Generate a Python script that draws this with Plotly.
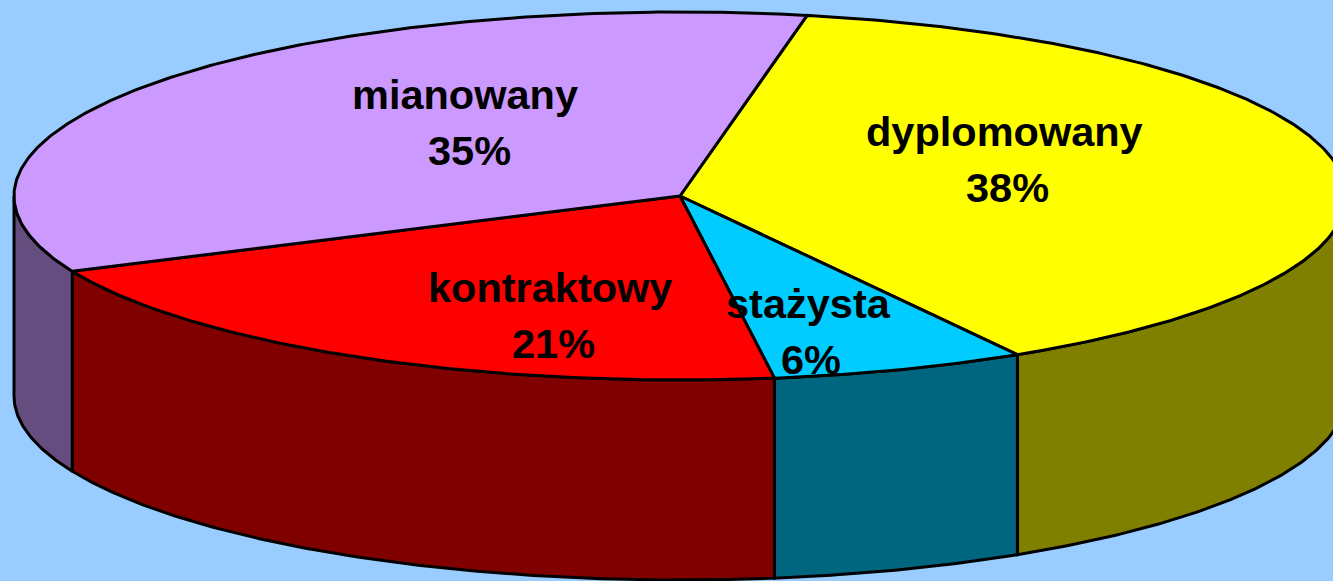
import numpy as np
import plotly.graph_objects as go

categories = ["dyplomowany", "stażysta", "kontraktowy", "mianowany"]
shares = [38.49, 6.19, 20.56, 34.76]
percent_labels = ["38%", "6%", "21%", "35%"]
top_colors = ["#FFFF00", "#00CCFF", "#FF0000", "#CC99FF"]
side_colors = ["#808000", "#006680", "#800000", "#664D80"]

W, H = 1333, 581
CX, CY, RX, RY, DEPTH = 680, 196, 666, 184, 200
START = 79.0
LABEL_POS = [(1004, 131, 1007, 187), (808, 303, 811, 359), (550, 287, 553, 343), (465, 94, 469, 150)]
OUT = "#000000"
LW = 3


def arc(a0, a1, dy=0):
    n = max(2, int(abs(a1 - a0) * 2) + 2)
    t = np.radians(np.linspace(a0, a1, n))
    return CX + RX * np.cos(t), CY - RY * np.sin(t) + dy


fig = go.Figure()
edges = START - np.cumsum([0] + shares) / sum(shares) * 360

# side walls (only the front half, -180..0 degrees, is visible)
for i in range(len(shares)):
    a0, a1 = edges[i], edges[i + 1]
    lo = max(a1, -180)
    hi = min(a0, 0)
    if hi <= lo:
        continue
    x1, y1 = arc(hi, lo)
    x2, y2 = arc(lo, hi, DEPTH)
    fig.add_trace(go.Scatter(
        x=np.r_[x1, x2, x1[0]], y=np.r_[y1, y2, y1[0]], mode="lines", fill="toself",
        fillcolor=side_colors[i], line=dict(color=OUT, width=LW), hoverinfo="skip", showlegend=False))

# top face slices
for i in range(len(shares)):
    x1, y1 = arc(edges[i], edges[i + 1])
    fig.add_trace(go.Scatter(
        x=np.r_[CX, x1, CX], y=np.r_[CY, y1, CY], mode="lines", fill="toself",
        fillcolor=top_colors[i], line=dict(color=OUT, width=LW), name=categories[i],
        hoverinfo="name", showlegend=False))

font = dict(family="Liberation Sans, Arial, sans-serif", size=41.5, color="#000000")
for cat, pct, (x1, y1, x2, y2) in zip(categories, percent_labels, LABEL_POS):
    fig.add_annotation(x=x1, y=y1, text="<b>%s</b>" % cat, showarrow=False, font=font, xanchor="center", yanchor="middle")
    fig.add_annotation(x=x2, y=y2, text="<b>%s</b>" % pct, showarrow=False, font=font, xanchor="center", yanchor="middle")

fig.update_layout(
    width=W, height=H, margin=dict(l=0, r=0, t=0, b=0),
    paper_bgcolor="#99CCFF", plot_bgcolor="#99CCFF",
    xaxis=dict(range=[0, W], visible=False, fixedrange=True),
    yaxis=dict(range=[H, 0], visible=False, fixedrange=True),
)
fig.write_html("out.html", config=dict(displayModeBar=False),
               post_script="document.body.style.margin='0';document.body.style.overflow='hidden';document.body.style.background='#99CCFF';")
